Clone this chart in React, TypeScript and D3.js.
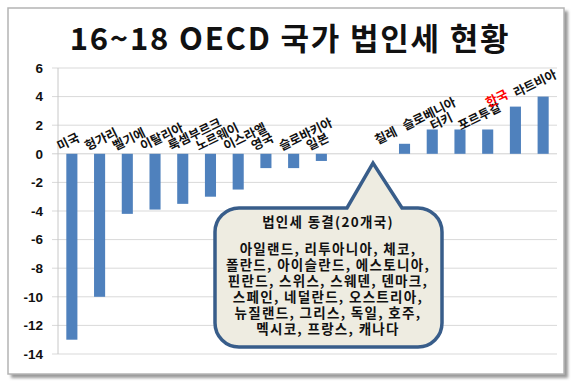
import React from "react";
import * as d3 from "d3";

// 16~18 OECD corporate tax change (%p)
const countries = [
  "미국", "헝가리", "벨기에", "이탈리아", "룩셈부르크", "노르웨이", "이스라엘",
  "영국", "슬로바키아", "일본", "", "", "칠레", "슬로베니아", "터키", "포르투갈",
  "한국", "라트비아",
];
const changes: (number | null)[] = [
  -13, -10, -4.2, -3.9, -3.5, -3, -2.5, -1, -1, -0.5, null, null, 0.7, 1.7, 1.7,
  1.7, 3.3, 4,
];
const yTicks = [6, 4, 2, 0, -2, -4, -6, -8, -10, -12, -14];
const highlight = "한국";

const calloutTitle = "법인세 동결(20개국)";
const calloutLines = [
  "아일랜드, 리투아니아, 체코,",
  "폴란드, 아이슬란드, 에스토니아,",
  "핀란드, 스위스, 스웨덴, 덴마크,",
  "스페인, 네덜란드, 오스트리아,",
  "뉴질랜드, 그리스, 독일, 호주,",
  "멕시코, 프랑스, 캐나다",
];

const W = 580;
const H = 390;
const plot = { left: 58, right: 557, top: 68, bottom: 354 };
const kr = "'Noto Sans CJK KR', 'Noto Sans', sans-serif";

// speech bubble: rounded box with a pointer on top
const bubblePath = (x0: number, y0: number, x1: number, y1: number, r: number,
  pl: number, px: number, py: number, pr: number) => {
  const p = d3.path();
  p.moveTo(x0 + r, y0);
  p.lineTo(pl, y0);
  p.lineTo(px, py);
  p.lineTo(pr, y0);
  p.lineTo(x1 - r, y0);
  p.arcTo(x1, y0, x1, y0 + r, r);
  p.lineTo(x1, y1 - r);
  p.arcTo(x1, y1, x1 - r, y1, r);
  p.lineTo(x0 + r, y1);
  p.arcTo(x0, y1, x0, y1 - r, r);
  p.lineTo(x0, y0 + r);
  p.arcTo(x0, y0, x0 + r, y0, r);
  p.closePath();
  return p.toString();
};

export default function App() {
  const x = d3
    .scaleBand<number>()
    .domain(d3.range(countries.length))
    .range([plot.left, plot.right])
    .paddingInner(0.6)
    .paddingOuter(0.3);
  const y = d3.scaleLinear().domain([-14, 6]).range([plot.bottom, plot.top]);
  const y0 = y(0);

  return (
    <svg
      width={W}
      height={H}
      style={{ position: "absolute", left: 0, top: 0, background: "#fff" }}
    >
      <defs>
        <filter id="shadow" x="-5%" y="-5%" width="110%" height="110%">
          <feGaussianBlur stdDeviation="1.5" />
        </filter>
      </defs>
      {/* frame */}
      <rect x={11} y={11} width={557} height={367} fill="#9a9a9a" filter="url(#shadow)" />
      <rect x={8} y={8} width={556} height={366} fill="#fff" stroke="#b4b4b4" strokeWidth={1.5} />

      <text
        x={290}
        y={50}
        textAnchor="middle"
        fontFamily={kr}
        fontWeight="bold"
        fontSize={31}
        letterSpacing={1.8}
        fill="#111"
      >
        16~18 OECD 국가 법인세 현황
      </text>

      {/* grid + y axis */}
      {yTicks.map((t) => (
        <g key={t}>
          <line
            x1={plot.left - 6}
            x2={plot.right}
            y1={y(t)}
            y2={y(t)}
            stroke={t === 0 ? "#d0d0d0" : "#d9d9d9"}
            strokeWidth={1}
          />
          <text
            x={43}
            y={y(t)}
            dy="0.35em"
            textAnchor="end"
            fontFamily="'Liberation Sans', Arial, sans-serif"
            fontWeight="bold"
            fontSize={13.5}
            fill="#111"
          >
            {t}
          </text>
        </g>
      ))}
      <line x1={plot.left} x2={plot.left} y1={plot.top} y2={plot.bottom} stroke="#c8c8c8" />

      {/* bars */}
      {changes.map((v, i) =>
        v === null ? null : (
          <rect
            key={i}
            x={x(i)}
            width={x.bandwidth()}
            y={Math.min(y(v), y0)}
            height={Math.abs(y(v) - y0)}
            fill="#4F81BD"
          />
        )
      )}

      {/* category labels */}
      {changes.map((v, i) => {
        if (v === null) return null;
        const cx = (x(i) ?? 0) + x.bandwidth() / 2;
        const lx = v < 0 ? cx - 12 : cx - 27;
        const ly = v < 0 ? y0 - 3 : y(v) + 1;
        return (
          <text
            key={"l" + i}
            transform={`translate(${lx},${ly}) rotate(-26)`}
            fontFamily={kr}
            fontWeight="bold"
            fontSize={12.5}
            fill={countries[i] === highlight ? "#FF0000" : "#111"}
          >
            {countries[i]}
          </text>
        );
      })}

      {/* callout */}
      <path
        d={bubblePath(215, 208, 442, 347, 24, 347, 373, 163, 402)}
        fill="#EEECE1"
        stroke="#385D8A"
        strokeWidth={3.5}
        strokeLinejoin="miter"
      />
      <text
        x={328}
        y={227}
        textAnchor="middle"
        fontFamily={kr}
        fontWeight="bold"
        fontSize={13.5}
        letterSpacing={1.3}
        fill="#111"
      >
        {calloutTitle}
      </text>
      {calloutLines.map((line, i) => (
        <text
          key={line}
          x={328}
          y={254 + i * 16}
          textAnchor="middle"
          fontFamily={kr}
          fontWeight="bold"
          fontSize={13.5}
          letterSpacing={1.3}
          fill="#111"
        >
          {line}
        </text>
      ))}
    </svg>
  );
}
